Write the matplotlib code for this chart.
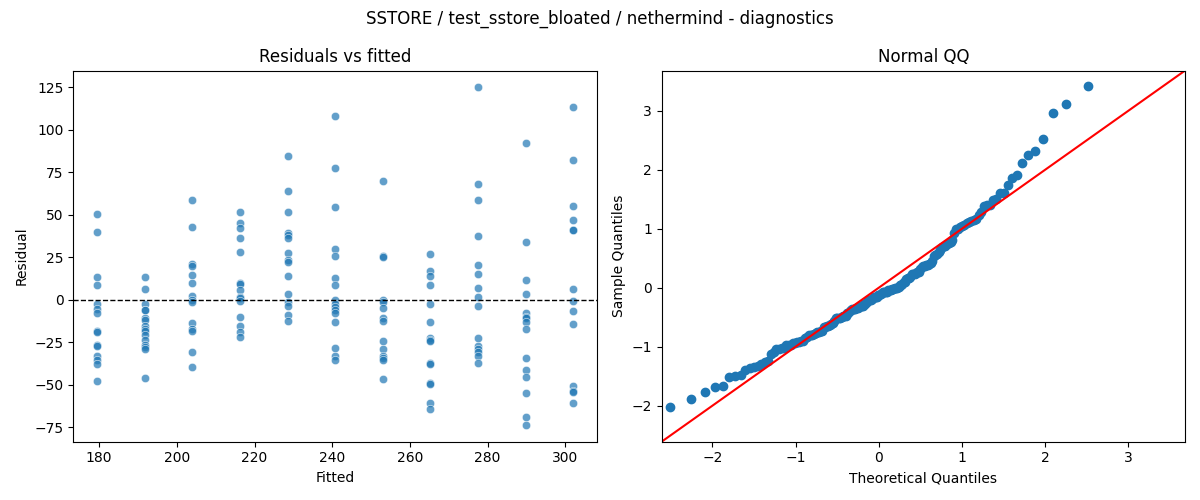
import numpy as np
import matplotlib
matplotlib.use("Agg")
import matplotlib.pyplot as plt
import seaborn as sns
from statistics import NormalDist

# fitted value of each group and the residuals
fitted_levels = [179.5, 191.8, 204.0, 216.3, 228.5, 240.8, 253.0, 265.3, 277.5, 289.8, 302.0]

res_179 = [50.5, 39.9, 13.3, 8.6, -2.3, -5.5, -7.8, -18.2, -18.8, -26.4, -27.0, -33.3, -35.6, -37.6, -48.1]
res_192 = [13.3, 6.3, -2.3, -5.9, -6.3, -11.0, -12.1, -15.6, -17.2, -18.4, -20.7, -23.9, -26.6, -27.8, -29.0, -45.8]
res_204 = [58.7, 42.6, 20.7, 19.6, 14.5, 9.8, 2.3, -0.4, -1.6, -13.7, -17.2, -18.4, -30.9, -39.5]
res_216 = [51.4, 45.0, 41.9, 36.4, 28.2, 9.8, 9.0, 5.5, 1.6, 0.8, -0.8, -10.2, -15.3, -18.8, -21.9]
res_228 = [84.3, 63.8, 51.4, 39.1, 38.0, 36.4, 27.4, 23.1, 21.9, 13.9, 3.3, -1.6, -3.5, -9.0, -12.5]
res_241 = [108.0, 77.3, 54.4, 29.7, 25.6, 12.7, 8.6, 0.0, -2.7, -4.3, -5.9, -7.8, -12.9, -28.6, -32.9, -35.2]
res_253 = [69.8, 25.8, 25.2, -0.4, -1.4, -4.7, -11.0, -12.5, -24.3, -29.0, -32.9, -34.4, -35.2, -46.9]
res_265 = [27.0, 16.8, 14.1, 8.6, -2.5, -12.9, -22.3, -23.9, -24.5, -37.2, -37.6, -48.9, -49.5, -60.6, -64.2]
res_278 = [124.8, 67.9, 58.7, 37.6, 20.3, 15.1, 6.8, 1.6, -3.7, -22.7, -27.0, -29.0, -30.5, -33.3, -37.2]
res_290 = [92.1, 34.0, 11.5, 3.5, -7.8, -10.2, -11.0, -12.9, -17.2, -34.0, -41.1, -45.2, -54.8, -68.9, -73.6]
res_302 = [113.3, 82.0, 55.0, 46.9, 41.1, 40.7, 6.3, -0.8, -6.7, -14.3, -50.5, -53.6, -54.4, -61.0]

groups = [res_179, res_192, res_204, res_216, res_228, res_241,
          res_253, res_265, res_278, res_290, res_302]

fitted = np.concatenate([[f] * len(g) for f, g in zip(fitted_levels, groups)])
resid = np.concatenate(groups)

fig, (ax1, ax2) = plt.subplots(1, 2, figsize=(12, 5))

# residuals vs fitted
sns.scatterplot(x=fitted, y=resid, alpha=0.7, ax=ax1)
ax1.axhline(0, color="black", linestyle="--", linewidth=1)
ax1.set_title("Residuals vs fitted")
ax1.set_xlabel("Fitted")
ax1.set_ylabel("Residual")

# normal QQ of standardised residuals
n = len(resid)
sample_q = np.sort((resid - resid.mean()) / resid.std())
probs = np.arange(1, n + 1) / (n + 1)
theo_q = np.array([NormalDist().inv_cdf(p) for p in probs])
ax2.plot(theo_q, sample_q, "o", color="C0")
lims = [-2.61, 3.68]
ax2.plot(lims, lims, "r-")
ax2.set_xlim(lims)
ax2.set_ylim(lims)
ax2.set_title("Normal QQ")
ax2.set_xlabel("Theoretical Quantiles")
ax2.set_ylabel("Sample Quantiles")

fig.suptitle("SSTORE / test_sstore_bloated / nethermind - diagnostics")
plt.tight_layout()
plt.savefig("out.png", dpi=100)
